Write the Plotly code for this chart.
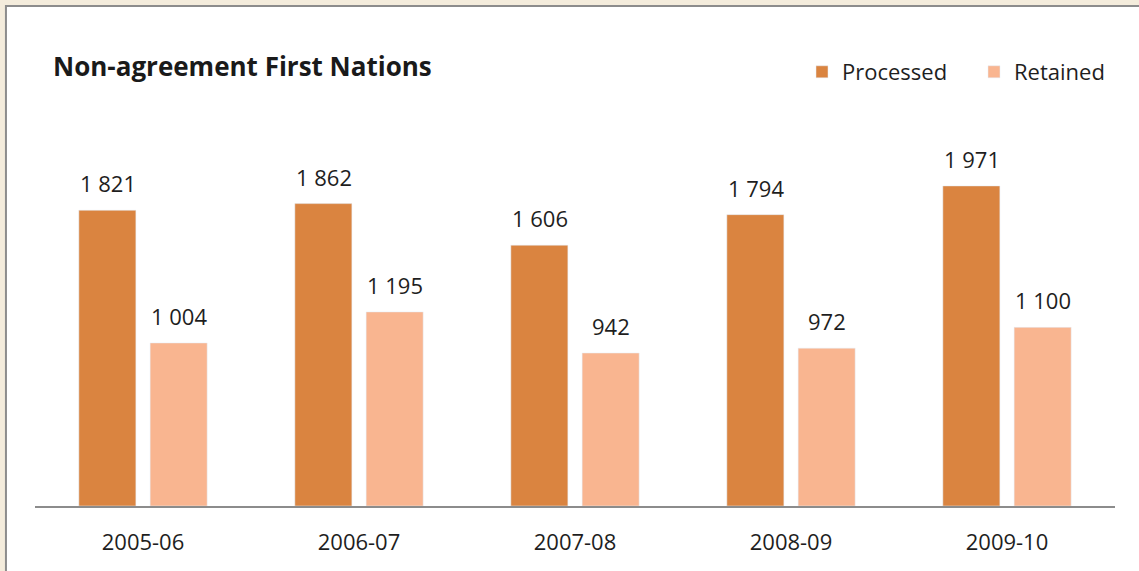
import plotly.graph_objects as go

categories = ["2005-06", "2006-07", "2007-08", "2008-09", "2009-10"]
processed = [1821, 1862, 1606, 1794, 1971]
retained = [1004, 1195, 942, 972, 1100]

C_PROC = "#DA8440"
C_RET = "#F9B590"
FONT = "Open Sans"
TXT = "#1e1e1e"

def fmt(v):
    return f"{v:,}".replace(",", " ")

fig = go.Figure()
fig.add_trace(go.Bar(name="Processed", x=categories, y=processed, marker_color=C_PROC))
fig.add_trace(go.Bar(name="Retained", x=categories, y=retained, marker_color=C_RET))

for c, p, r in zip(categories, processed, retained):
    for v, dx in ((p, -35.5), (r, 35.5)):
        fig.add_annotation(x=c, y=v, xref="x", yref="y", text=fmt(v), showarrow=False,
                           xshift=dx, yanchor="bottom", yshift=10,
                           font=dict(family=FONT, size=22, color=TXT))

# white panel with gray border over beige background
fig.add_shape(type="rect", xref="paper", yref="paper", x0=-0.0269, x1=1.2, y0=-0.5, y1=1.2315,
              fillcolor="white", line=dict(color="#8c8c8c", width=2), layer="below")

fig.update_layout(
    width=1139, height=571,
    margin=dict(l=35, r=24, t=100, b=65, autoexpand=False),
    paper_bgcolor="#f4ecdc", plot_bgcolor="rgba(0,0,0,0)",
    barmode="group", bargap=0.34, bargroupgap=0.2,
    title=dict(text="<b>Non-agreement First Nations</b>", x=53/1139, xref="container", xanchor="left",
               y=1-67/571, yref="container", yanchor="middle",
               font=dict(family=FONT, size=26, color="#1a1a1a")),
    legend=dict(orientation="h", x=(802-35)/1080, xanchor="left", y=1.069, yanchor="middle",
                font=dict(family=FONT, size=22, color=TXT), bgcolor="rgba(0,0,0,0)",
                itemwidth=30, traceorder="normal", entrywidth=127, entrywidthmode="pixels"),
    xaxis=dict(type="category", showline=True, linecolor="#8c8c8c", linewidth=1.5, ticks="",
               showgrid=False, tickfont=dict(family=FONT, size=22, color=TXT), ticklabelstandoff=16),
    yaxis=dict(range=[0, 2500], visible=False, showgrid=False, zeroline=False),
    showlegend=True,
)

fig.write_html("out.html", config={"displayModeBar": False},
               post_script="document.body.style.margin='0';")
